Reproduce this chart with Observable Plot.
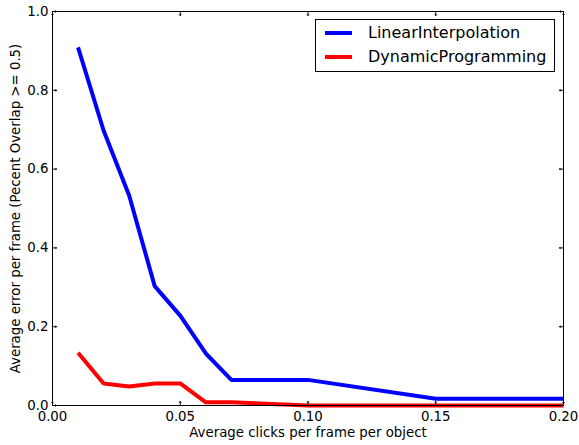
<!DOCTYPE html>
<html>
<head>
<meta charset="utf-8">
<script src="https://cdn.jsdelivr.net/npm/d3@7"></script>
<script src="https://cdn.jsdelivr.net/npm/@observablehq/plot@0.6"></script>
<style>
  body { margin: 0; background: #fff; }
  #wrap { position: relative; width: 579px; height: 445px; font-family: "DejaVu Sans", sans-serif; }
  #legend { position: absolute; left: 315px; top: 19px; width: 238px; height: 51px; border: 1px solid #000; background: #fff; font-size: 16px; color: #000; }
  .item { position: absolute; left: 0; height: 22px; }
  .sw { position: absolute; left: 9px; width: 27px; height: 4px; }
  .lab { position: absolute; left: 52px; white-space: nowrap; line-height: 20px; }
</style>
</head>
<body>
<div id="wrap"></div>
<script>
const clicks = [0.01, 0.02, 0.03, 0.04, 0.05, 0.06, 0.07, 0.10, 0.15, 0.20];
const linearInterpolation = [0.909, 0.698, 0.533, 0.303, 0.228, 0.132, 0.065, 0.065, 0.017, 0.017];
const dynamicProgramming = [0.134, 0.056, 0.048, 0.056, 0.056, 0.008, 0.008, 0.0, 0.0, 0.0];
const seriesNames = ["LinearInterpolation", "DynamicProgramming"];
const seriesColors = ["#0000ff", "#ff0000"];
const xTicks = [0, 0.05, 0.10, 0.15, 0.20];
const yTicks = [0, 0.2, 0.4, 0.6, 0.8, 1.0];
const xLabel = "Average clicks per frame per object";
const yLabel = "Average error per frame (Pecent Overlap >= 0.5)";

const data = [];
[linearInterpolation, dynamicProgramming].forEach((vals, i) => {
  clicks.forEach((c, j) => data.push({x: c, y: vals[j], s: seriesNames[i]}));
});

const chart = Plot.plot({
  width: 579,
  height: 445,
  marginLeft: 52,
  marginRight: 16,
  marginTop: 11,
  marginBottom: 40,
  style: {fontFamily: "DejaVu Sans, sans-serif", fontSize: "13.33px", background: "#fff", color: "#000"},
  x: {domain: [0, 0.2], label: null},
  y: {domain: [0, 1], label: null},
  color: {domain: seriesNames, range: seriesColors},
  marks: [
    Plot.line(data, {x: "x", y: "y", z: "s", stroke: "s", strokeWidth: 4, strokeLinejoin: "miter", strokeLinecap: "butt"}),
    Plot.frame({stroke: "#000", strokeWidth: 1}),
    Plot.vector(yTicks, {x: 0, y: d => d, length: 4, rotate: 90, anchor: "start", stroke: "#000", strokeWidth: 1}),
    Plot.vector(yTicks, {x: 0.2, y: d => d, length: 4, rotate: -90, anchor: "start", stroke: "#000", strokeWidth: 1}),
    Plot.vector(xTicks, {x: d => d, y: 0, length: 4, rotate: 0, anchor: "start", stroke: "#000", strokeWidth: 1}),
    Plot.vector(xTicks, {x: d => d, y: 1, length: 4, rotate: 180, anchor: "start", stroke: "#000", strokeWidth: 1}),
    Plot.axisX({ticks: xTicks, tickFormat: d3.format(".2f"), tickSize: 0, tickPadding: 6, fontSize: 13.33, label: null}),
    Plot.axisY({ticks: yTicks, tickFormat: d3.format(".1f"), tickSize: 0, tickPadding: 4, fontSize: 13.33, label: null}),
    Plot.text([xLabel], {frameAnchor: "bottom", dy: 27, lineAnchor: "middle", textAnchor: "middle", fontSize: 13.33, fill: "#000"}),
    Plot.text([yLabel], {frameAnchor: "left", rotate: -90, dx: -37, textAnchor: "middle", lineAnchor: "middle", fontSize: 13.33, fill: "#000"})
  ]
});

const wrap = document.getElementById("wrap");
wrap.appendChild(chart);

const legend = document.createElement("div");
legend.id = "legend";
seriesNames.forEach((name, i) => {
  const item = document.createElement("div");
  item.className = "item";
  item.style.top = (1 + i * 24) + "px";
  const sw = document.createElement("div");
  sw.className = "sw";
  sw.style.background = seriesColors[i];
  sw.style.top = "10px";
  const lab = document.createElement("div");
  lab.className = "lab";
  lab.textContent = name;
  lab.style.top = "2px";
  item.appendChild(sw);
  item.appendChild(lab);
  legend.appendChild(item);
});
wrap.appendChild(legend);
</script>
</body>
</html>
